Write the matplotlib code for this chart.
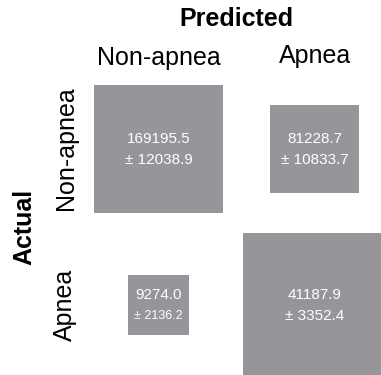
import matplotlib
matplotlib.use('Agg')
import matplotlib.pyplot as plt
from matplotlib.patches import Rectangle
import numpy as np

# data
classes = ['Non-apnea', 'Apnea']
means = [[169195.5, 81228.7],
         [9274.0, 41187.9]]
stds = [[12038.9, 10833.7],
        [2136.2, 3352.4]]
# share of each actual class (row) predicted as each class, read from square areas
row_share = [[0.676, 0.324],
             [0.148, 0.852]]

plt.rcParams['font.family'] = ['Liberation Sans', 'DejaVu Sans']
gray = '#96969a'

fig = plt.figure(figsize=(3.81, 3.75), dpi=100)
W, H = 381, 375
# axes in pixels: cells 156 px, first cell centre at (158.5, 149)
ax = fig.add_axes([80.5 / W, 1 - 383 / H, 312 / W, 312 / H])
ax.set_xlim(-0.5, 1.5)
ax.set_ylim(1.5, -0.5)
ax.axis('off')

for r in range(2):
    for c in range(2):
        side = np.sqrt(row_share[r][c])
        ax.add_patch(Rectangle((c - side / 2, r - side / 2), side, side,
                               facecolor=gray, edgecolor='none', clip_on=False))
        small = side < 0.5
        ax.annotate(f'{means[r][c]:.1f}', xy=(c, r), xytext=(0, 7),
                    textcoords='offset points', ha='center', va='center',
                    color='white', fontsize=11)
        ax.annotate(f'\u00b1 {stds[r][c]:.1f}', xy=(c, r), xytext=(0, -8),
                    textcoords='offset points', ha='center', va='center',
                    color='white', fontsize=9 if small else 11)

fig.text(236 / W, 1 - 19 / H, 'Predicted', ha='center', va='center',
         fontsize=18, fontweight='bold')
fig.text(159 / W, 1 - 65 / H, classes[0], ha='center', va='baseline', fontsize=18)
fig.text(315 / W, 1 - 63 / H, classes[1], ha='center', va='baseline', fontsize=18)

fig.text(24 / W, 1 - 227 / H, 'Actual', ha='center', va='center',
         rotation=90, fontsize=18, fontweight='bold')
fig.text(66 / W, 1 - 148 / H, classes[0], ha='center', va='center',
         rotation=90, fontsize=18)
fig.text(65 / W, 1 - 305 / H, classes[1], ha='center', va='center',
         rotation=90, fontsize=18)

fig.savefig('out.png', dpi=100)
